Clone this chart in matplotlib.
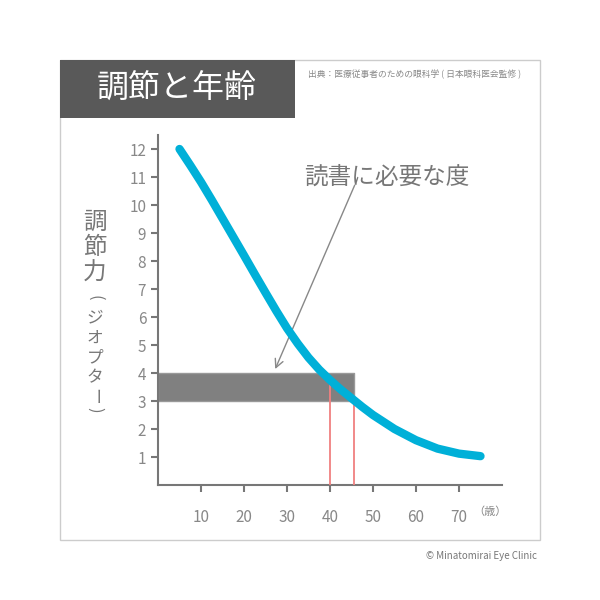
import matplotlib
matplotlib.use("Agg")
import matplotlib.pyplot as plt
from matplotlib.patches import Rectangle

plt.rcParams['font.family'] = ['Noto Sans CJK JP', 'DejaVu Sans']

ages = [5, 7.5, 10, 12.5, 15, 17.5, 20, 22.5, 25, 27.5, 30, 32.5, 35, 37.5, 40, 42.5, 45, 47.5, 50, 55, 60, 65, 70, 75]
power = [12, 11.42, 10.82, 10.18, 9.52, 8.86, 8.2, 7.53, 6.87, 6.22, 5.6, 5.05, 4.55, 4.12, 3.75, 3.41, 3.1, 2.79, 2.5, 2.0, 1.6, 1.3, 1.12, 1.03]
xticks = [10, 20, 30, 40, 50, 60, 70]
yticks = list(range(1, 13))
band = (3, 4)
reds = [40, 45.5]

fig = plt.figure(figsize=(6, 6), dpi=100)
fig.patches.append(Rectangle((60/600, 60/600), 480/600, 480/600, transform=fig.transFigure,
                             fill=False, edgecolor='#cccccc', lw=1))
fig.patches.append(Rectangle((60/600, 1-118/600), 235/600, 58/600, transform=fig.transFigure,
                             facecolor='#595959', edgecolor='none'))
fig.text(177/600, 1-89/600, '調節と年齢', color='white', fontsize=23, ha='center', va='center')
fig.text(308/600, 1-74/600, '出典：医療従事者のための眼科学 ( 日本眼科医会監修 )', color='#888888', fontsize=6.3, va='center')
fig.text(537/600, 1-556/600, '© Minatomirai Eye Clinic', color='#777777', fontsize=7, ha='right', va='center')

top = 1 - (485 - 12.5*28)/600
ax = fig.add_axes([158/600, 1-485/600, 344/600, top-(1-485/600)])
ax.set_xlim(0, 80)
ax.set_ylim(0, 12.5)
for s in ['top', 'right']:
    ax.spines[s].set_visible(False)
for s in ['left', 'bottom']:
    ax.spines[s].set_color('#777777')
    ax.spines[s].set_linewidth(1.5)
ax.set_xticks(xticks)
ax.set_yticks(yticks)
ax.tick_params(colors='#777777', labelcolor='#888888', labelsize=11, width=1.5, length=5)
ax.tick_params(axis='x', pad=12)
ax.fill_between([0, 45.5], band[0], band[1], color='#808080', edgecolor='#999999', lw=1, zorder=2)
ax.vlines(reds[0], 0, 3.85, color='#f08080', lw=1.3, zorder=3)
ax.vlines(reds[1], 0, 3.0, color='#f08080', lw=1.3, zorder=3)
ax.plot(ages, power, color='#00b0d8', lw=6, solid_capstyle='round', solid_joinstyle='round', zorder=4)
ax.annotate('', xy=(27, 4.05), xytext=(46, 10.8),
            arrowprops=dict(arrowstyle='->', color='#888888', lw=1, mutation_scale=15))
ax.text(34, 11.0, '読書に必要な度', fontsize=17, color='#777777', va='center')
ax.text(81, -0.95, '（歳）', fontsize=8, color='#888888', ha='right', va='center')

ychars = [('調', 222, 0, 17), ('節', 248, 0, 17), ('力', 273, 0, 17),
          ('(', 298, 270, 12), ('ジ', 318, 0, 12), ('オ', 338, 0, 12), ('プ', 358, 0, 12),
          ('タ', 378, 0, 12), ('ー', 396, 270, 12), ('）', 412, 270, 12)]
ychars[-1] = (')', 410, 270, 12)
for ch, yy, rot, fs in ychars:
    fig.text(95/600, 1-yy/600, ch, fontsize=fs, color='#777777', ha='center', va='center', rotation=rot)
fig.savefig('out.png', dpi=100)
